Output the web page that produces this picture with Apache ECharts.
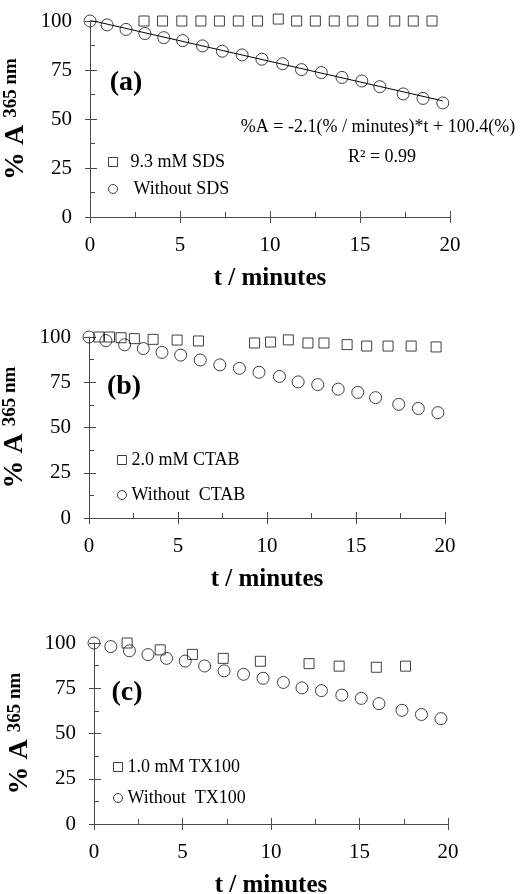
<!DOCTYPE html>
<html>
<head>
<meta charset="utf-8">
<script src="https://cdn.jsdelivr.net/npm/echarts@6/dist/echarts.min.js"></script>
<style>
  html, body { margin: 0; padding: 0; background: #fff; }
  #chart { width: 527px; height: 894px; }
</style>
</head>
<body>
<div id="chart"></div>
<script>
// Photodegradation kinetics: % absorbance at 365 nm vs time, with and without surfactant
const FONT = '"Liberation Serif", "Times New Roman", serif';
const AXIS_COLOR = '#4a4a4a';
const MARK_COLOR = '#111';

// Reference run without surfactant (same in all panels)
const timeWithout = [0, 0.95, 2.0, 3.05, 4.1, 5.15, 6.25, 7.35, 8.45, 9.55, 10.7, 11.75, 12.85, 14.0, 15.1, 16.1, 17.4, 18.5, 19.6];
const pctWithout  = [100, 98.0, 95.7, 93.6, 91.5, 90.0, 87.3, 84.6, 82.7, 80.5, 78.2, 75.2, 73.7, 71.2, 69.4, 66.5, 62.8, 60.5, 58.2];

// (a) 9.3 mM SDS
const timeSDS = [3.0, 4.03, 5.1, 6.16, 7.19, 8.24, 9.31, 10.46, 11.48, 12.52, 13.57, 14.6, 15.71, 16.93, 17.96, 19.0];
const pctSDS  = [100, 100, 100, 100, 100, 100, 100, 101, 100, 100, 100, 100, 100, 100, 100, 100];

// (b) 2.0 mM CTAB
const timeCTAB = [0.55, 1.15, 1.8, 2.55, 3.6, 4.95, 6.15, 9.3, 10.2, 11.2, 12.3, 13.2, 14.5, 15.6, 16.8, 18.1, 19.5];
const pctCTAB  = [100, 100, 99.6, 99.1, 98.7, 98.3, 97.8, 96.7, 97.2, 98.4, 96.7, 96.7, 95.8, 95.0, 95.0, 95.0, 94.5];

// (c) 1.0 mM TX100
const timeTX = [1.87, 3.74, 5.56, 7.3, 9.4, 12.15, 13.85, 15.95, 17.6];
const pctTX  = [100, 96.2, 93.7, 91.5, 89.9, 88.6, 87.2, 86.6, 87.2];

// Linear fit of the run without surfactant
const fitSlope = -2.1;
const fitIntercept = 100.4;
const fitR2 = 0.99;
const fitTimeRange = [0, 19.6];

const panelLabels = ['(a)', '(b)', '(c)'];
const xTitle = 't / minutes';
const yTitle = '{a|% A }{b|365 nm}';

const zip = (xs, ys) => xs.map((x, i) => [x, ys[i]]);

const grids = [
  { left: 90, top: 21, width: 360, height: 196, outerBoundsMode: 'none', containLabel: false },
  { left: 89, top: 337, width: 356, height: 181, outerBoundsMode: 'none', containLabel: false },
  { left: 94, top: 643, width: 354, height: 181, outerBoundsMode: 'none', containLabel: false }
];
const yNameGaps = [55, 55, 59];

const xAxes = [];
const yAxes = [];
grids.forEach((g, i) => {
  // main axes: line, labels, inward major + minor ticks
  xAxes.push({
    type: 'value', gridIndex: i, min: 0, max: 20, interval: 5,
    axisLine: { show: true, onZero: false, lineStyle: { color: AXIS_COLOR, width: 1 } },
    axisTick: { show: true, inside: true, length: 6, lineStyle: { color: AXIS_COLOR } },
    minorTick: { show: true, splitNumber: 2, length: 5, lineStyle: { color: AXIS_COLOR } },
    splitLine: { show: false },
    axisLabel: { color: '#000', fontFamily: FONT, fontSize: 21, margin: 18 },
    name: xTitle, nameLocation: 'middle', nameGap: 49,
    nameTextStyle: { color: '#000', fontFamily: FONT, fontSize: 25, fontWeight: 'bold' }
  });
  // companion axis: outward half of the major ticks
  xAxes.push({
    type: 'value', gridIndex: i, min: 0, max: 20, interval: 5, position: 'bottom',
    axisLine: { show: false },
    axisTick: { show: true, inside: false, length: 6, lineStyle: { color: AXIS_COLOR } },
    splitLine: { show: false }, axisLabel: { show: false }
  });
  yAxes.push({
    type: 'value', gridIndex: i, min: 0, max: 100, interval: 25,
    axisLine: { show: true, onZero: false, lineStyle: { color: AXIS_COLOR, width: 1 } },
    axisTick: { show: true, inside: true, length: 7, lineStyle: { color: AXIS_COLOR } },
    minorTick: { show: true, splitNumber: 2, length: 5, lineStyle: { color: AXIS_COLOR } },
    splitLine: { show: false },
    axisLabel: { color: '#000', fontFamily: FONT, fontSize: 21, margin: 18 },
    name: yTitle, nameLocation: 'middle', nameRotate: 90, nameGap: yNameGaps[i],
    nameTextStyle: {
      rich: {
        a: { color: '#000', fontFamily: FONT, fontSize: 28, fontWeight: 'bold' },
        b: { color: '#000', fontFamily: FONT, fontSize: 19, fontWeight: 'bold', verticalAlign: 'top' }
      }
    }
  });
  yAxes.push({
    type: 'value', gridIndex: i, min: 0, max: 100, interval: 25, position: 'left',
    axisLine: { show: false },
    axisTick: { show: true, inside: false, length: 5, lineStyle: { color: AXIS_COLOR } },
    splitLine: { show: false }, axisLabel: { show: false }
  });
});

const hollow = { color: 'rgba(0,0,0,0)', borderColor: MARK_COLOR, borderWidth: 1 };
const squareSeries = (name, i, xs, ys) => ({
  name, type: 'scatter', xAxisIndex: 2 * i, yAxisIndex: 2 * i,
  symbol: 'rect', symbolSize: 10, itemStyle: hollow, clip: false, z: 3,
  data: zip(xs, ys)
});
const circleSeries = (name, i) => ({
  name, type: 'scatter', xAxisIndex: 2 * i, yAxisIndex: 2 * i,
  symbol: 'circle', symbolSize: 12, itemStyle: hollow, clip: false, z: 3,
  data: zip(timeWithout, pctWithout)
});

const fitLine = {
  type: 'line', xAxisIndex: 0, yAxisIndex: 0, showSymbol: false, z: 2,
  lineStyle: { color: '#000', width: 1 },
  data: fitTimeRange.map(t => [t, fitSlope * t + fitIntercept])
};

const legendText = { color: '#000', fontFamily: FONT, fontSize: 18 };
const legendBase = {
  orient: 'vertical', itemWidth: 9, itemHeight: 9, selectedMode: false, padding: 0,
  textStyle: legendText, itemStyle: { borderWidth: 1 }
};

const textStyleOf = (font) => ({ font, fill: '#000', align: 'center', verticalAlign: 'middle', textAlign: 'center', textVerticalAlign: 'middle' });

const option = {
  animation: false,
  backgroundColor: '#fff',
  grid: grids,
  xAxis: xAxes,
  yAxis: yAxes,
  legend: [
    Object.assign({}, legendBase, {
      left: 108, top: 153, itemGap: 9,
      data: [
        { name: '9.3 mM SDS', textStyle: { padding: [0, 0, 0, 8] } },
        { name: 'Without SDS', textStyle: { padding: [0, 0, 0, 11] } }
      ]
    }),
    Object.assign({}, legendBase, {
      left: 117, top: 451, itemGap: 17,
      data: ['2.0 mM CTAB', 'Without  CTAB']
    }),
    Object.assign({}, legendBase, {
      left: 113, top: 758, itemGap: 13,
      data: ['1.0 mM TX100', 'Without  TX100']
    })
  ],
  series: [
    fitLine,
    squareSeries('9.3 mM SDS', 0, timeSDS, pctSDS),
    circleSeries('Without SDS', 0),
    squareSeries('2.0 mM CTAB', 1, timeCTAB, pctCTAB),
    circleSeries('Without  CTAB', 1),
    squareSeries('1.0 mM TX100', 2, timeTX, pctTX),
    circleSeries('Without  TX100', 2)
  ],
  graphic: [
    { type: 'text', x: 126, y: 83, style: Object.assign({ text: panelLabels[0] }, textStyleOf('bold 28px ' + FONT)) },
    { type: 'text', x: 124, y: 387, style: Object.assign({ text: panelLabels[1] }, textStyleOf('bold 28px ' + FONT)) },
    { type: 'text', x: 127, y: 693, style: Object.assign({ text: panelLabels[2] }, textStyleOf('bold 28px ' + FONT)) },
    { type: 'text', x: 378, y: 127, style: Object.assign({ text: '%A = ' + fitSlope + '(% / minutes)*t + ' + fitIntercept + '(%)' }, textStyleOf('18px ' + FONT)) },
    { type: 'text', x: 382, y: 157, style: Object.assign({ text: 'R\u00b2 = ' + fitR2 }, textStyleOf('18px ' + FONT)) }
  ]
};

const chart = echarts.init(document.getElementById('chart'), null, { renderer: 'canvas' });
chart.setOption(option);
</script>
</body>
</html>
